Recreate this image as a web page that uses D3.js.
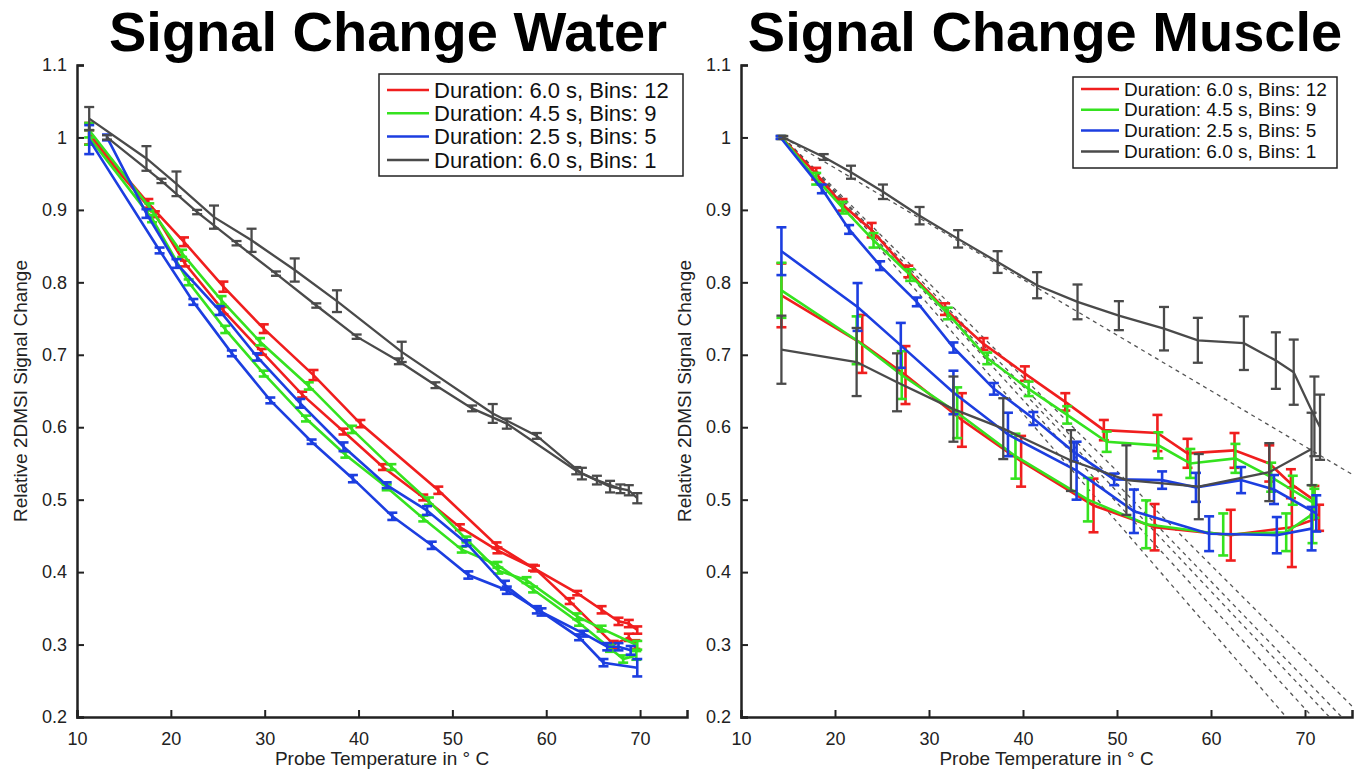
<!DOCTYPE html>
<html>
<head>
<meta charset="utf-8">
<script src="https://cdn.jsdelivr.net/npm/d3@7"></script>
<style>
  html, body { margin: 0; padding: 0; background: #fff; }
  svg { display: block; font-family: "Liberation Sans", Arial, Helvetica, sans-serif; }
</style>
</head>
<body>
<div id="chart"></div>
<script>
// each point: [temperature, relative signal, error]
var waterRedA = [[11.3,1.005,0.015],[17.6,0.909,0.006],[21.4,0.856,0.006],[25.6,0.794,0.007],[29.9,0.736,0.006],[35.2,0.672,0.007],[40.2,0.605,0.005],[48.5,0.513,0.005],[54.7,0.437,0.004],[58.6,0.406,0.004],[63.3,0.371,0.003],[65.9,0.348,0.005],[67.7,0.332,0.005],[68.8,0.329,0.005],[69.7,0.32,0.005]];
var waterRedB = [[11.3,1.0,0.01],[18.3,0.894,0.004],[21.5,0.826,0.004],[25.6,0.761,0.005],[29.7,0.704,0.004],[34.0,0.645,0.004],[38.4,0.594,0.004],[42.6,0.545,0.004],[46.9,0.503,0.004],[50.8,0.462,0.004],[54.8,0.43,0.004],[58.8,0.405,0.004],[62.5,0.36,0.004],[67.2,0.30,0.005],[68.8,0.31,0.005],[69.5,0.30,0.006]];
var waterGreenA = [[11.3,1.01,0.01],[17.7,0.904,0.005],[21.2,0.84,0.005],[25.4,0.775,0.006],[29.5,0.718,0.005],[34.7,0.657,0.005],[39.3,0.597,0.005],[43.5,0.545,0.004],[47.5,0.498,0.005],[51.5,0.445,0.004],[54.9,0.402,0.004],[57.9,0.389,0.004],[63.3,0.339,0.004],[65.9,0.322,0.004],[69.7,0.299,0.006]];
var waterGreenB = [[11.3,1.0,0.01],[18.0,0.888,0.005],[21.9,0.80,0.004],[25.8,0.735,0.005],[29.9,0.674,0.004],[34.4,0.612,0.004],[38.6,0.562,0.004],[43.0,0.517,0.004],[46.9,0.474,0.004],[51.0,0.431,0.004],[54.8,0.41,0.004],[58.6,0.376,0.004],[63.5,0.33,0.004],[66.8,0.295,0.005],[68.2,0.28,0.005],[69.6,0.285,0.006]];
var waterBlueA = [[13.2,1.0,0.004],[17.4,0.895,0.006],[20.6,0.826,0.006],[25.2,0.761,0.006],[29.2,0.697,0.005],[33.8,0.633,0.006],[38.4,0.573,0.006],[43.0,0.52,0.004],[47.3,0.485,0.006],[51.5,0.44,0.004],[55.6,0.382,0.006],[59.0,0.348,0.005],[64.0,0.315,0.004],[66.5,0.297,0.005],[67.7,0.297,0.005],[69.0,0.292,0.006]];
var waterBlueB = [[11.3,0.997,0.02],[18.8,0.844,0.004],[22.4,0.773,0.004],[26.5,0.702,0.004],[30.6,0.637,0.004],[35.0,0.58,0.003],[39.4,0.529,0.005],[43.6,0.477,0.005],[47.8,0.437,0.005],[51.7,0.396,0.005],[55.8,0.375,0.005],[59.5,0.345,0.005],[63.5,0.31,0.004],[66.1,0.275,0.005],[69.7,0.268,0.012]];
var waterGrayA = [[11.3,1.026,0.016],[17.4,0.971,0.017],[20.6,0.936,0.017],[24.6,0.89,0.016],[28.6,0.858,0.016],[33.2,0.817,0.016],[37.7,0.774,0.015],[44.6,0.704,0.014],[54.3,0.619,0.013],[59.0,0.588,0.004],[63.8,0.536,0.008],[66.8,0.518,0.008],[68.8,0.513,0.007],[69.7,0.502,0.007]];
var waterGrayB = [[13.2,1.0,0.003],[19.0,0.94,0.003],[22.8,0.897,0.003],[27.0,0.854,0.003],[31.2,0.812,0.003],[35.5,0.768,0.003],[39.8,0.725,0.003],[44.3,0.691,0.004],[48.2,0.658,0.004],[52.1,0.626,0.004],[55.8,0.605,0.007],[63.2,0.54,0.005],[65.4,0.527,0.006],[67.9,0.515,0.006]];

var muscleRedA = [[14.3,1.0,0.002],[18.0,0.95,0.008],[20.8,0.907,0.008],[23.9,0.872,0.01],[27.8,0.815,0.008],[31.7,0.763,0.008],[35.8,0.715,0.008],[40.2,0.674,0.01],[44.5,0.635,0.012],[48.6,0.596,0.014],[54.3,0.592,0.025],[57.5,0.564,0.02],[62.5,0.568,0.024],[66.2,0.55,0.025],[68.5,0.522,0.02],[71.0,0.499,0.02]];
var muscleGreenA = [[14.3,1.0,0.002],[18.0,0.943,0.008],[20.8,0.903,0.008],[24.1,0.858,0.01],[28.0,0.81,0.008],[32.0,0.757,0.008],[36.2,0.695,0.008],[40.6,0.653,0.01],[44.7,0.617,0.012],[48.9,0.58,0.014],[54.4,0.575,0.018],[57.8,0.55,0.02],[62.6,0.557,0.02],[66.4,0.531,0.02],[68.7,0.513,0.02],[71.0,0.495,0.02]];
var muscleBlueA = [[14.2,1.0,0.002],[18.6,0.929,0.006],[21.5,0.873,0.006],[24.8,0.823,0.006],[28.7,0.773,0.006],[32.6,0.71,0.007],[36.9,0.653,0.008],[41.1,0.612,0.009],[45.4,0.566,0.013],[49.7,0.528,0.008],[54.8,0.527,0.012],[58.4,0.517,0.02],[63.2,0.527,0.018],[66.7,0.514,0.02],[71.2,0.481,0.025]];
var muscleGrayA = [[14.5,1.0,0.002],[18.8,0.973,0.004],[21.7,0.952,0.009],[25.1,0.925,0.01],[29.0,0.892,0.012],[33.1,0.86,0.012],[37.3,0.828,0.015],[41.5,0.796,0.018],[45.8,0.773,0.024],[50.2,0.754,0.02],[55.0,0.736,0.03],[58.6,0.72,0.031],[63.5,0.716,0.037],[66.9,0.692,0.039],[68.8,0.676,0.045],[71.0,0.615,0.055],[71.6,0.60,0.045]];
var muscleRedB = [[14.3,0.782,0.044],[22.9,0.715,0.04],[27.5,0.672,0.04],[33.5,0.61,0.037],[39.8,0.553,0.035],[47.5,0.492,0.037],[54.0,0.462,0.032],[62.1,0.451,0.035],[68.6,0.462,0.055],[71.5,0.475,0.018]];
var muscleGreenB = [[14.3,0.789,0.038],[22.3,0.72,0.033],[27.1,0.672,0.033],[33.0,0.62,0.035],[39.2,0.56,0.031],[46.9,0.5,0.03],[53.1,0.466,0.033],[61.3,0.452,0.029],[68.0,0.455,0.026],[70.8,0.48,0.04]];
var muscleBlueB = [[14.3,0.843,0.033],[22.4,0.766,0.033],[27.0,0.713,0.031],[32.6,0.648,0.03],[38.4,0.59,0.03],[45.7,0.54,0.04],[51.8,0.484,0.03],[59.8,0.453,0.024],[67.0,0.451,0.025],[70.7,0.46,0.03]];
var muscleGrayB = [[14.3,0.707,0.047],[22.3,0.69,0.047],[26.6,0.662,0.04],[32.6,0.625,0.045],[37.9,0.598,0.042],[45.1,0.554,0.042],[51.0,0.527,0.048],[58.7,0.518,0.045],[66.2,0.538,0.04],[70.7,0.57,0.05]];

// dashed reference lines in the muscle panel: [t0, v0, t1, v1]
var muscleRefLines = [[14.5,1.0,68.0,0.2],[14.5,1.0,70.8,0.2],[14.5,1.0,72.6,0.2],[14.5,1.0,73.9,0.2],[14.5,1.0,75,0.215],[14.5,1.0,75,0.535]];

var legendLabels = ["Duration: 6.0 s, Bins: 12","Duration: 4.5 s, Bins: 9","Duration: 2.5 s, Bins: 5","Duration: 6.0 s, Bins: 1"];
var colors = ["#f01e1e","#35e21f","#1c3ee0","#4a4a4a"];
var xTicks = [10,20,30,40,50,60,70];
var yTicks = [0.2,0.3,0.4,0.5,0.6,0.7,0.8,0.9,1.0,1.1];

var svg = d3.select("#chart").append("svg")
  .attr("width", 1361)
  .attr("height", 773);

function drawPanel(p){
  var x = d3.scaleLinear().domain([10,75]).range([p.left, p.right]);
  var y = d3.scaleLinear().domain([0.2,1.1]).range([717, 65]);
  var g = svg.append("g");

  // title
  g.append("text")
    .attr("x", p.titleX).attr("y", 51)
    .attr("text-anchor","middle")
    .style("font-size","56px").style("font-weight","bold")
    .text(p.title);

  // axes, ticks inside like matlab
  var xAxis = g.append("g").attr("transform","translate(0,717)")
    .call(d3.axisBottom(x).tickValues(xTicks).tickSize(-7).tickPadding(12).tickFormat(d3.format("d")));
  var yAxis = g.append("g").attr("transform","translate(" + p.left + ",0)")
    .call(d3.axisLeft(y).tickValues(yTicks).tickSize(-7).tickPadding(10).tickFormat(function(d){ return +d.toFixed(1); }));
  [xAxis, yAxis].forEach(function(a){
    a.select(".domain").attr("stroke","#222").attr("stroke-width",2.5);
    a.selectAll(".tick line").attr("stroke","#222").attr("stroke-width",2);
    a.selectAll(".tick text").attr("fill","#222").style("font-size","18px").style("font-family","inherit");
  });
  xAxis.selectAll(".tick text").attr("dy","0.9em");

  g.append("text")
    .attr("x", (p.left + p.right)/2).attr("y", 765)
    .attr("text-anchor","middle").style("font-size","19px").attr("fill","#222")
    .text("Probe Temperature in \u00b0 C");
  g.append("text")
    .attr("transform","translate(" + (p.left - 50) + ",391) rotate(-90)")
    .attr("text-anchor","middle").style("font-size","19px").attr("fill","#222")
    .text("Relative 2DMSI Signal Change");

  // dashed references
  if (p.refs) {
    g.append("g").selectAll("line").data(p.refs).enter().append("line")
      .attr("x1", function(d){ return x(d[0]); })
      .attr("y1", function(d){ return y(d[1]); })
      .attr("x2", function(d){ return x(d[2]); })
      .attr("y2", function(d){ return y(d[3]); })
      .attr("stroke","#555").attr("stroke-width",1.3).attr("stroke-dasharray","4,4");
  }

  var line = d3.line().x(function(d){ return x(d[0]); }).y(function(d){ return y(d[1]); });
  var cap = 5;
  p.series.forEach(function(s){
    var sg = g.append("g").attr("stroke", colors[s.c]).attr("fill","none")
      .attr("stroke-width", s.c == 3 ? 2.3 : 2.6);
    sg.append("path").attr("d", line(s.data));
    var eb = sg.selectAll(".eb").data(s.data).enter().append("g");
    eb.append("line")
      .attr("x1", function(d){ return x(d[0]); }).attr("x2", function(d){ return x(d[0]); })
      .attr("y1", function(d){ return y(d[1] - d[2]); }).attr("y2", function(d){ return y(d[1] + d[2]); });
    eb.append("line")
      .attr("x1", function(d){ return x(d[0]) - cap; }).attr("x2", function(d){ return x(d[0]) + cap; })
      .attr("y1", function(d){ return y(d[1] - d[2]); }).attr("y2", function(d){ return y(d[1] - d[2]); });
    eb.append("line")
      .attr("x1", function(d){ return x(d[0]) - cap; }).attr("x2", function(d){ return x(d[0]) + cap; })
      .attr("y1", function(d){ return y(d[1] + d[2]); }).attr("y2", function(d){ return y(d[1] + d[2]); });
  });

  // legend
  var L = p.legend;
  var lg = g.append("g");
  lg.append("rect").attr("x", L.x).attr("y", L.y).attr("width", L.w).attr("height", L.h)
    .attr("fill","#fff").attr("stroke","#222").attr("stroke-width",1.5);
  legendLabels.forEach(function(lab, i){
    var yy = L.y + L.first + i*L.step;
    lg.append("line").attr("x1", L.x + 8).attr("x2", L.x + 8 + L.line)
      .attr("y1", yy).attr("y2", yy).attr("stroke", colors[i]).attr("stroke-width",2.5);
    lg.append("text").attr("x", L.x + 13 + L.line).attr("y", yy).attr("dy","0.35em")
      .style("font-size", L.font + "px").attr("fill","#111").text(lab);
  });
}

drawPanel({
  title: "Signal Change Water", titleX: 388, left: 77, right: 687,
  series: [{c:0,data:waterRedA},{c:0,data:waterRedB},{c:1,data:waterGreenA},{c:1,data:waterGreenB},
           {c:2,data:waterBlueA},{c:2,data:waterBlueB},{c:3,data:waterGrayA},{c:3,data:waterGrayB}],
  legend: {x:379, y:74, w:304, h:102, first:16, step:23.3, line:42, font:22}
});
drawPanel({
  title: "Signal Change Muscle", titleX: 1045, left: 741, right: 1352,
  refs: muscleRefLines,
  series: [{c:0,data:muscleRedA},{c:0,data:muscleRedB},{c:1,data:muscleGreenA},{c:1,data:muscleGreenB},
           {c:2,data:muscleBlueA},{c:2,data:muscleBlueB},{c:3,data:muscleGrayA},{c:3,data:muscleGrayB}],
  legend: {x:1073, y:77, w:264, h:91, first:12, step:20.8, line:38, font:19}
});
</script>
</body>
</html>
